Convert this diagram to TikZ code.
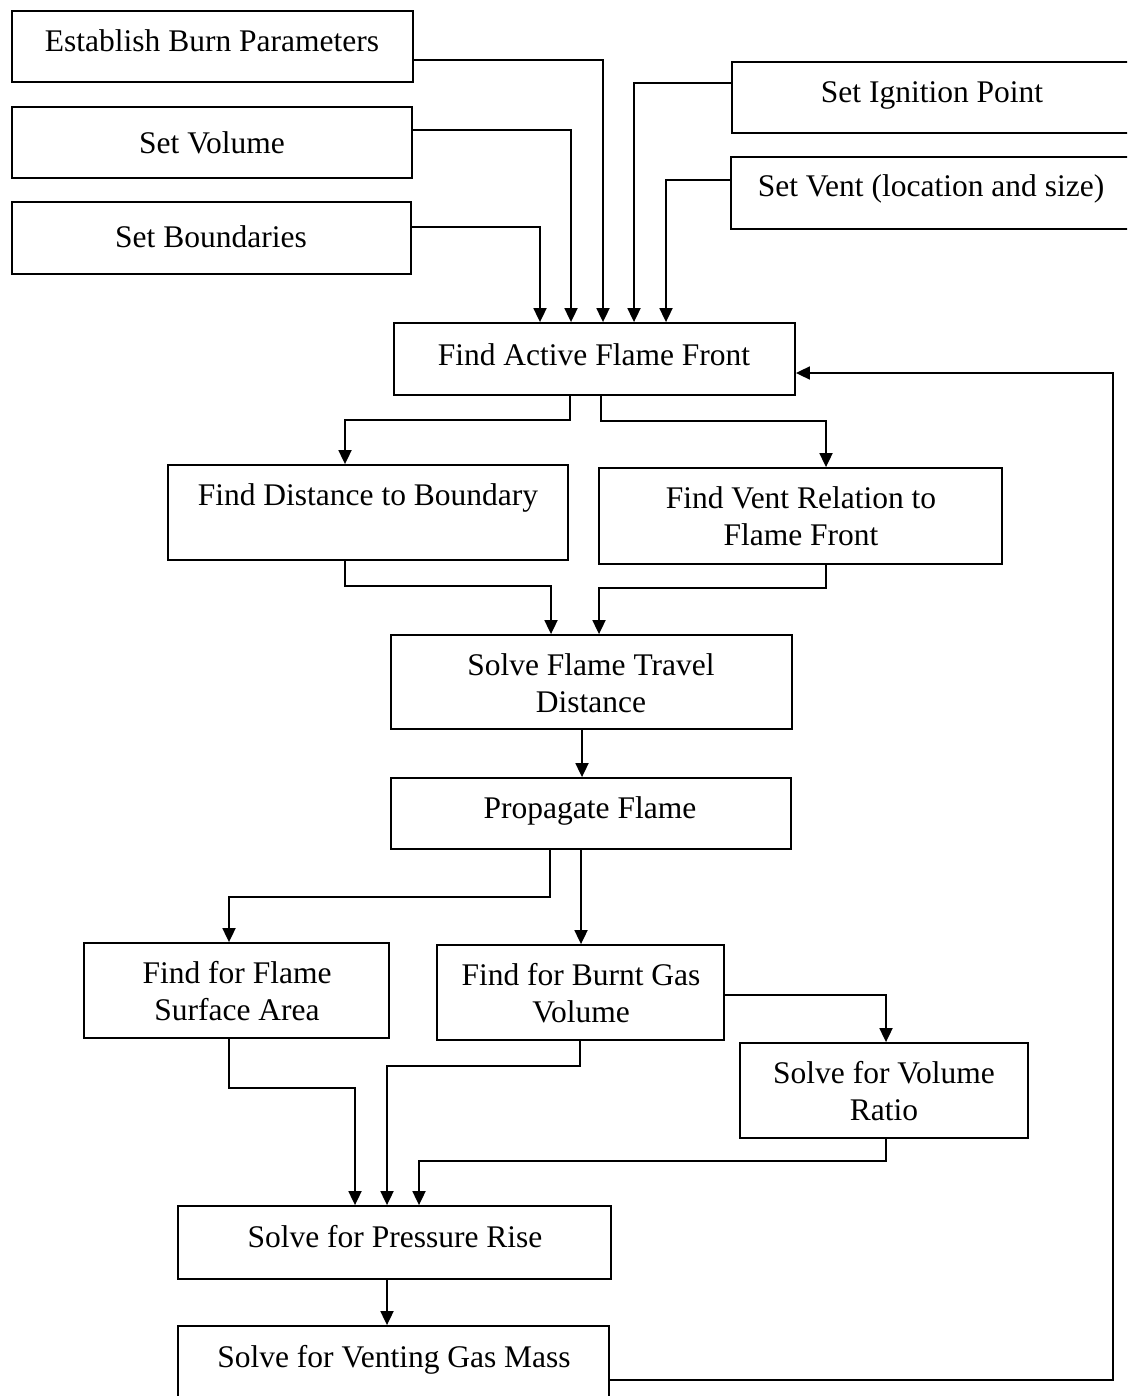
\documentclass[tikz,border=0pt]{standalone}
\usepackage{fontspec}
\setmainfont{Liberation Serif}
\usetikzlibrary{arrows.meta}
\begin{document}
\begin{tikzpicture}[x=1pt,y=-1pt,
  box/.style={draw,line width=1.8pt,inner sep=0pt,rectangle},
  lbl/.style={anchor=base,inner sep=0pt,font=\fontsize{31.5}{37}\selectfont},
  conn/.style={line width=1.8pt},
  arr/.style={conn,-{Triangle[length=14pt,width=13pt]}}]
\useasboundingbox (0,0) rectangle (1127,1396);
\clip (0,0) rectangle (1127,1396);
% boxes
\node[box,minimum width=401pt,minimum height=71pt] (est) at (212.5,46.5) {};
\node[box,minimum width=400pt,minimum height=71pt] (vol) at (212,142.5) {};
\node[box,minimum width=399pt,minimum height=72pt] (bnd) at (211.5,238) {};
\node[box,minimum width=408pt,minimum height=71pt] (ign) at (936,97.5) {};
\node[box,minimum width=409pt,minimum height=72pt] (vent) at (935.5,193) {};
\node[box,minimum width=401pt,minimum height=72pt] (ffront) at (594.5,359) {};
\node[box,minimum width=400pt,minimum height=95pt] (dist) at (368,512.5) {};
\node[box,minimum width=403pt,minimum height=96pt] (vrel) at (800.5,516) {};
\node[box,minimum width=401pt,minimum height=94pt] (travel) at (591.5,682) {};
\node[box,minimum width=400pt,minimum height=71pt] (prop) at (591,813.5) {};
\node[box,minimum width=305pt,minimum height=95pt] (surf) at (236.5,990.5) {};
\node[box,minimum width=287pt,minimum height=95pt] (burnt) at (580.5,992.5) {};
\node[box,minimum width=288pt,minimum height=95pt] (ratio) at (884,1090.5) {};
\node[box,minimum width=433pt,minimum height=73pt] (press) at (394.5,1242.5) {};
\node[box,minimum width=431pt,minimum height=73pt] (vmass) at (393.5,1362.5) {};
% labels
\node[lbl] (estT) at (212,52) {Establish Burn Parameters};
\node[lbl] (volT) at (212,154) {Set Volume};
\node[lbl] (bndT) at (211,248) {Set Boundaries};
\node[lbl] (ignT) at (932,103) {Set Ignition Point};
\node[lbl] (ventT) at (931,197) {Set Vent (location and size)};
\node[lbl] (ffrontT) at (594,365) {Find Active Flame Front};
\node[lbl] (distT) at (368,505) {Find Distance to Boundary};
\node[lbl] (vrelT1) at (801,508) {Find Vent Relation to};
\node[lbl] (vrelT2) at (801,545) {Flame Front};
\node[lbl] (travelT1) at (591,675) {Solve Flame Travel};
\node[lbl] (travelT2) at (591,712) {Distance};
\node[lbl] (propT) at (590,818) {Propagate Flame};
\node[lbl] (surfT1) at (237,983) {Find for Flame};
\node[lbl] (surfT2) at (237,1020) {Surface Area};
\node[lbl] (burntT1) at (581,985) {Find for Burnt Gas};
\node[lbl] (burntT2) at (581,1022) {Volume};
\node[lbl] (ratioT1) at (884,1083) {Solve for Volume};
\node[lbl] (ratioT2) at (884,1120) {Ratio};
\node[lbl] (pressT) at (395,1247) {Solve for Pressure Rise};
\node[lbl] (vmassT) at (394,1367) {Solve for Venting Gas Mass};
% connectors into Find Active Flame Front
\draw[arr] ([yshift=-13.5pt]est.east) -| ([xshift=8.5pt]ffront.north);
\draw[arr] ([yshift=12.5pt]vol.east) -| ([xshift=-23.5pt]ffront.north);
\draw[arr] ([yshift=11pt]bnd.east) -| ([xshift=-54.5pt]ffront.north);
\draw[arr] ([yshift=14.5pt]ign.west) -| ([xshift=39.5pt]ffront.north);
\draw[arr] ([yshift=13pt]vent.west) -| ([xshift=71.5pt]ffront.north);
% split
\draw[arr] ([xshift=-24.5pt]ffront.south) -- ++(0,24) -| ([xshift=-23pt]dist.north);
\draw[arr] ([xshift=6.5pt]ffront.south) -- ++(0,25) -| ([xshift=25.5pt]vrel.north);
\draw[arr] ([xshift=-23pt]dist.south) -- ++(0,25) -| ([xshift=-40.5pt]travel.north);
\draw[arr] ([xshift=25.5pt]vrel.south) -- ++(0,23) -| ([xshift=7.5pt]travel.north);
\draw[arr] ([xshift=-9.5pt]travel.south) -- ([xshift=-9pt]prop.north);
\draw[arr] ([xshift=-41pt]prop.south) -- ++(0,47) -| ([xshift=-7.5pt]surf.north);
\draw[arr] ([xshift=-10pt]prop.south) -- ([xshift=0.5pt]burnt.north);
\draw[arr] ([yshift=-2.5pt]burnt.east) -| ([xshift=2pt]ratio.north);
\draw[arr] ([xshift=-7.5pt]surf.south) -- ++(0,49) -| ([xshift=-39.5pt]press.north);
\draw[arr] ([xshift=-0.5pt]burnt.south) -- ++(0,25) -| ([xshift=-7.5pt]press.north);
\draw[arr] ([xshift=2pt]ratio.south) -- ++(0,22) -| ([xshift=24.5pt]press.north);
\draw[arr] ([xshift=-7.5pt]press.south) -- ([xshift=-6.5pt]vmass.north);
% feedback loop
\coordinate (loop) at (1113,373);
\draw[arr] ([yshift=-17.5pt]vmass.east) -| (loop) -- ([yshift=-14pt]ffront.east);
\end{tikzpicture}
\end{document}
